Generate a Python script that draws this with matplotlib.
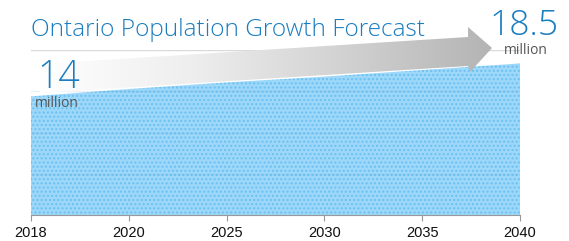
import matplotlib
matplotlib.use('Agg')
import matplotlib.pyplot as plt
import numpy as np
from matplotlib.patches import Polygon
from matplotlib.colors import LinearSegmentedColormap

# ---- data ----
years = ['2018', '2020', '2025', '2030', '2035', '2040']
population = [14.5, 15.4, 16.2, 16.9, 17.7, 18.5]   # millions
grid_values = [5, 10, 15, 20]
start_label = '14'
end_label = '18.5'
unit_label = 'million'
title = 'Ontario Population Growth Forecast'

W, H = 569, 241
fig = plt.figure(figsize=(W / 100, H / 100), dpi=100)


def fx(px):
    return px / W


def fy(py):
    return 1 - py / H


ax = fig.add_axes([fx(31), fy(215), fx(520) - fx(31), fy(50) - fy(215)])
x = np.arange(len(years))
ax.fill_between(x, 0, population, facecolor='#9dd8fb', edgecolor='#6cc0f0',
                hatch='....', linewidth=0, zorder=1)
ax.plot(x, population, color='white', lw=1.5, zorder=2)
ax.set_xlim(0, len(years) - 1)
ax.set_ylim(0, 20)
ax.set_yticks(grid_values)
for g in grid_values:
    if g >= max(population):
        ax.axhline(g, color='#d9d9d9', lw=1, zorder=0)
    else:
        ax.axhline(g, color='#5a8fb0', alpha=0.12, lw=1, zorder=3)
ax.tick_params(axis='y', left=False, labelleft=False)
ax.set_xticks(x)
ax.set_xticklabels(years, fontfamily='Liberation Sans', fontsize=10.5, color='#111111')
ax.tick_params(axis='x', length=4, color='#999999', pad=4)
for s in ['left', 'right', 'top']:
    ax.spines[s].set_visible(False)
ax.spines['bottom'].set_color('#999999')
ax.patch.set_alpha(0)

# ---- overlay in pixel coordinates ----
ov = fig.add_axes([0, 0, 1, 1], zorder=5)
ov.set_xlim(0, W)
ov.set_ylim(H, 0)
ov.axis('off')
ov.patch.set_alpha(0)

arrow_pts = [(40, 64), (468, 37), (468, 27), (492, 48), (470, 72), (468, 66), (40, 93)]
poly = Polygon(arrow_pts, closed=True, facecolor='none', edgecolor='none')
ov.add_patch(poly)
cmap = LinearSegmentedColormap.from_list('g', ['#ffffff', '#eeeeee', '#d2d2d2', '#b4b4b4'])
grad = np.linspace(0, 1, 256).reshape(1, -1)
im = ov.imshow(grad, cmap=cmap, extent=[40, 492, 93, 27], aspect='auto', zorder=2)
im.set_clip_path(poly)
ov.set_xlim(0, W)
ov.set_ylim(H, 0)

blue = '#1a7dc0'
ov.text(31, 36, title, fontfamily='Open Sans', fontweight='light', fontsize=17.6, color=blue,
        va='baseline', ha='left', zorder=6)
ov.text(37, 88, start_label, fontfamily='Open Sans', fontweight='light', fontsize=27, color=blue,
        va='baseline', ha='left', zorder=6)
ov.text(35, 107, unit_label, fontfamily='Open Sans', fontsize=10, color='#555555', va='baseline', ha='left', zorder=6)
ov.text(490, 35, end_label, fontfamily='Open Sans', fontweight='light', fontsize=25.5, color=blue,
        va='baseline', ha='left', zorder=6)
ov.text(504, 54, unit_label, fontfamily='Open Sans', fontsize=10, color='#555555', va='baseline', ha='left', zorder=6)

fig.savefig('out.png', dpi=100)
